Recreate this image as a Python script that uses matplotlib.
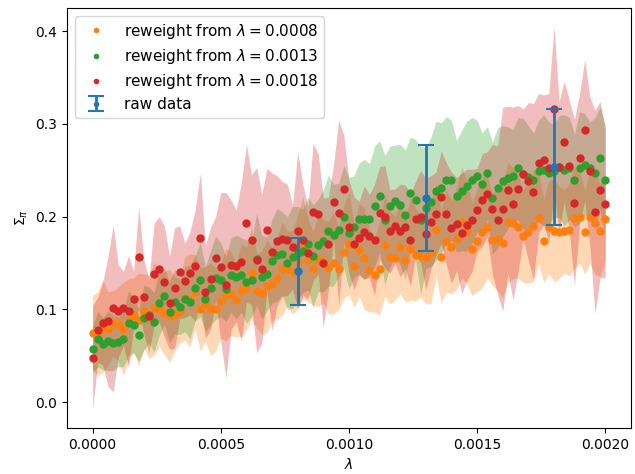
import numpy as np
import matplotlib
matplotlib.use("Agg")
import matplotlib.pyplot as plt

lam = np.linspace(0.0, 0.002, 101)

orange_y = [0.075,0.074,0.082,0.079,0.085,0.084,0.079,0.088,0.094,0.089,
            0.098,0.092,0.101,0.100,0.096,0.093,0.095,0.098,0.112,0.110,
            0.119,0.100,0.106,0.100,0.100,0.109,0.116,0.117,0.110,0.121,
            0.122,0.139,0.120,0.118,0.125,0.127,0.134,0.144,0.144,0.140,
            0.151,0.166,0.153,0.144,0.153,0.152,0.145,0.150,0.144,0.162,
            0.171,0.147,0.164,0.155,0.142,0.137,0.144,0.169,0.156,0.155,
            0.167,0.153,0.165,0.159,0.158,0.156,0.161,0.186,0.157,0.174,
            0.167,0.176,0.194,0.183,0.165,0.174,0.183,0.189,0.175,0.176,
            0.172,0.194,0.193,0.189,0.179,0.183,0.190,0.199,0.174,0.189,
            0.185,0.183,0.184,0.186,0.199,0.200,0.183,0.200,0.193,0.185,0.198]
orange_err = [0.04,0.045,0.05,0.04,0.035,0.04,0.05,0.045,0.04,0.05,
              0.04,0.045,0.05,0.04,0.045,0.05,0.04,0.035,0.045,0.05,
              0.04,0.045,0.04,0.05,0.045,0.04,0.05,0.045,0.04,0.05,
              0.045,0.05,0.04,0.045,0.05,0.04,0.045,0.05,0.04,0.045,
              0.05,0.055,0.045,0.04,0.05,0.045,0.05,0.055,0.045,0.05,
              0.055,0.045,0.05,0.055,0.045,0.04,0.05,0.055,0.05,0.045,
              0.05,0.045,0.055,0.05,0.045,0.05,0.055,0.05,0.05,0.055,
              0.05,0.055,0.06,0.055,0.05,0.055,0.06,0.055,0.05,0.055,
              0.06,0.065,0.06,0.055,0.05,0.055,0.06,0.05,0.045,0.05,
              0.055,0.05,0.045,0.05,0.055,0.05,0.045,0.05,0.055,0.05,0.045]

green_y = [0.057,0.068,0.063,0.066,0.064,0.065,0.068,0.085,0.083,0.072,
           0.091,0.094,0.086,0.107,0.114,0.097,0.108,0.103,0.111,0.108,
           0.123,0.132,0.111,0.123,0.134,0.132,0.122,0.137,0.135,0.137,
           0.130,0.132,0.154,0.135,0.138,0.152,0.159,0.160,0.150,0.156,
           0.161,0.163,0.171,0.158,0.169,0.174,0.185,0.180,0.186,0.200,
           0.182,0.189,0.198,0.197,0.197,0.211,0.222,0.196,0.211,0.217,
           0.213,0.202,0.226,0.218,0.196,0.209,0.216,0.228,0.231,0.240,
           0.239,0.222,0.228,0.233,0.239,0.244,0.235,0.247,0.220,0.231,
           0.238,0.242,0.244,0.252,0.246,0.243,0.240,0.249,0.250,0.247,
           0.249,0.254,0.250,0.252,0.239,0.253,0.256,0.252,0.247,0.263,0.239]
green_err = [0.025,0.03,0.028,0.032,0.03,0.027,0.03,0.035,0.03,0.028,
             0.035,0.03,0.032,0.035,0.03,0.033,0.035,0.03,0.035,0.04,
             0.035,0.04,0.035,0.04,0.045,0.04,0.035,0.04,0.045,0.04,
             0.045,0.04,0.05,0.045,0.04,0.045,0.05,0.045,0.05,0.055,
             0.05,0.045,0.05,0.055,0.05,0.055,0.06,0.055,0.05,0.055,
             0.06,0.055,0.06,0.065,0.06,0.065,0.06,0.07,0.065,0.06,
             0.065,0.07,0.06,0.065,0.08,0.065,0.07,0.075,0.07,0.068,
             0.065,0.06,0.065,0.07,0.068,0.06,0.055,0.05,0.06,0.065,
             0.06,0.055,0.05,0.055,0.06,0.055,0.05,0.055,0.06,0.055,
             0.05,0.055,0.06,0.055,0.05,0.06,0.055,0.05,0.06,0.055,0.06]

red_y = [0.048,0.078,0.085,0.087,0.101,0.098,0.101,0.098,0.111,0.156,
         0.113,0.093,0.138,0.143,0.130,0.107,0.123,0.140,0.131,0.139,
         0.147,0.177,0.119,0.133,0.155,0.146,0.126,0.148,0.147,0.151,
         0.193,0.175,0.153,0.144,0.186,0.162,0.174,0.176,0.175,0.167,
         0.185,0.175,0.161,0.205,0.203,0.150,0.171,0.216,0.204,0.230,
         0.189,0.171,0.177,0.183,0.179,0.175,0.204,0.200,0.184,0.190,
         0.185,0.189,0.175,0.198,0.200,0.181,0.194,0.203,0.221,0.203,
         0.188,0.192,0.182,0.191,0.196,0.207,0.218,0.224,0.208,0.196,
         0.208,0.229,0.214,0.230,0.246,0.238,0.227,0.258,0.261,0.253,
         0.316,0.254,0.281,0.255,0.215,0.263,0.293,0.249,0.205,0.229,0.214]
red_err = [0.056,0.035,0.045,0.07,0.09,0.05,0.04,0.06,0.03,0.055,
           0.04,0.04,0.055,0.057,0.06,0.05,0.065,0.05,0.04,0.045,
           0.06,0.07,0.05,0.055,0.045,0.08,0.1,0.07,0.06,0.085,
           0.085,0.07,0.1,0.08,0.066,0.085,0.07,0.062,0.06,0.045,
           0.085,0.06,0.05,0.074,0.065,0.07,0.05,0.04,0.1,0.058,
           0.05,0.05,0.04,0.05,0.045,0.06,0.05,0.055,0.045,0.04,
           0.05,0.045,0.05,0.04,0.05,0.06,0.05,0.045,0.05,0.055,
           0.06,0.05,0.065,0.06,0.055,0.045,0.05,0.046,0.07,0.08,
           0.11,0.09,0.104,0.09,0.07,0.085,0.095,0.075,0.07,0.08,
           0.089,0.07,0.065,0.07,0.09,0.07,0.076,0.08,0.11,0.095,0.08]

raw_x = [0.0008, 0.0013, 0.0018]
raw_y = [0.141, 0.220, 0.2534]
raw_err = [0.036, 0.057, 0.0625]

labels = [r"reweight from $\lambda = 0.0008$",
          r"reweight from $\lambda = 0.0013$",
          r"reweight from $\lambda = 0.0018$"]
colors = ["C1", "C2", "C3"]
series = [(orange_y, orange_err), (green_y, green_err), (red_y, red_err)]

fig = plt.figure(figsize=(6.35, 4.74), dpi=100)
ax = fig.add_axes([0.1055, 0.097, 0.888, 0.886])

for (y, e), c, lab in zip(series, colors, labels):
    y = np.asarray(y); e = np.asarray(e)
    ax.fill_between(lam, y - e, y + e, color=c, alpha=0.3, linewidth=0)
    ax.plot(lam, y, 'o', color=c, markersize=5, label=lab, linestyle='none')

ax.errorbar(raw_x, raw_y, yerr=raw_err, fmt='o', color='C0', capsize=6,
            elinewidth=2, capthick=1.5, markersize=5, label='raw data')

ax.set_xlim(-0.0001, 0.0021)
ax.set_ylim(-0.028, 0.425)
ax.set_xticks([0.0, 0.0005, 0.0010, 0.0015, 0.0020])
ax.set_xticklabels(["0.0000", "0.0005", "0.0010", "0.0015", "0.0020"])
ax.set_yticks([0.0, 0.1, 0.2, 0.3, 0.4])
ax.set_xlabel(r"$\lambda$")
ax.set_ylabel(r"$\Sigma_\pi$")
ax.legend(loc='upper left', markerscale=0.6, fontsize=11, labelspacing=0.4)

fig.savefig("out.png", dpi=100)
